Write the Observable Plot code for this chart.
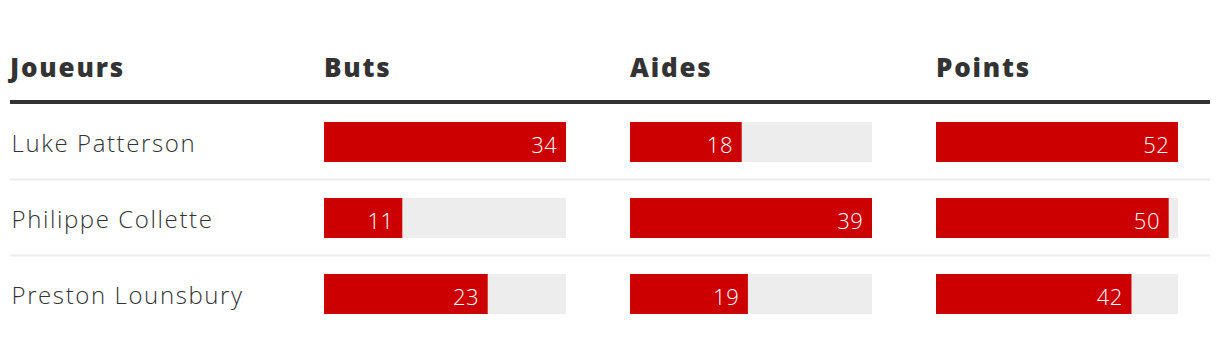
<!DOCTYPE html>
<html>
<head>
<meta charset="utf-8">
<script src="https://cdn.jsdelivr.net/npm/d3@7"></script>
<script src="https://cdn.jsdelivr.net/npm/@observablehq/plot@0.6"></script>
<style>
  html, body { margin: 0; padding: 0; background: #fff; }
  #chart { position: relative; width: 1220px; height: 340px; font-family: "Open Sans", sans-serif; color: #333; }
  .hdr { position: absolute; top: 54px; font-size: 26px; font-weight: 800; letter-spacing: 1.8px; line-height: 1; color: #333; }
  .rule { position: absolute; left: 10px; top: 100px; width: 1200px; height: 4px; background: #333; }
  .layer { position: absolute; top: 0; }
</style>
</head>
<body>
<div id="chart"></div>
<script>
// ---- data ----
const players = ["Luke Patterson", "Philippe Collette", "Preston Lounsbury"];
const headers = ["Joueurs", "Buts", "Aides", "Points"];
const buts = [34, 11, 23];
const aides = [18, 39, 19];
const points = [52, 50, 42];

// ---- layout ----
const W = 1220, H = 340;
const colLeft = [10, 324, 630, 936];
const barW = 242;
const yOpts = {type: "band", domain: players, paddingInner: 36 / 76, paddingOuter: 0, axis: null};
const mTop = 122, mBottom = 26;

const chart = document.getElementById("chart");

// names + separators (full width)
const base = Plot.plot({
  width: W, height: H,
  marginTop: mTop, marginBottom: mBottom, marginLeft: 11, marginRight: 10,
  style: {background: "transparent", fontFamily: "'Open Sans', sans-serif", letterSpacing: "1.6px"},
  y: yOpts,
  marks: [
    Plot.ruleY(players.slice(0, players.length - 1), {y: d => d, dy: 37, stroke: "#ebebeb", strokeWidth: 2, insetLeft: -1}),
    Plot.text(players, {y: d => d, text: d => d, frameAnchor: "left", textAnchor: "start",
      fontSize: 24, fontWeight: 300, fill: "#333", dy: 2})
  ]
});
base.classList.add("layer");
base.style.left = "0px";
chart.appendChild(base);

// header labels
headers.forEach((h, i) => {
  const s = document.createElement("div");
  s.className = "hdr";
  s.textContent = h;
  s.style.left = colLeft[i] + "px";
  chart.appendChild(s);
});
const r = document.createElement("div");
r.className = "rule";
chart.appendChild(r);

// bar columns
const series = [buts, aides, points];
series.forEach((vals, k) => {
  const max = d3.max(vals);
  const rows = players.map((p, i) => ({player: p, value: vals[i]}));
  const p = Plot.plot({
    width: barW, height: H,
    marginTop: mTop, marginBottom: mBottom, marginLeft: 0, marginRight: 0,
    style: {background: "transparent", fontFamily: "'Open Sans', sans-serif", letterSpacing: "0.6px"},
    x: {domain: [0, max], axis: null},
    y: yOpts,
    marks: [
      Plot.barX(rows, {x: () => max, y: "player", fill: "#ededed"}),
      Plot.barX(rows, {x: "value", y: "player", fill: "#cc0000"}),
      Plot.text(rows, {x: "value", y: "player", text: d => String(d.value), textAnchor: "end", dx: -9, dy: 3,
        fill: "#fff", fontSize: 22, fontWeight: 300})
    ]
  });
  p.classList.add("layer");
  p.style.left = colLeft[k + 1] + "px";
  chart.appendChild(p);
});
</script>
</body>
</html>
